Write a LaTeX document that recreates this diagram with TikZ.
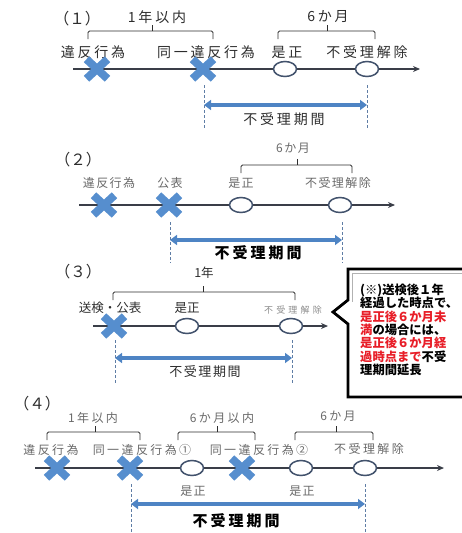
\documentclass[tikz,border=0pt]{standalone}
\usepackage{fontspec}
\usetikzlibrary{shapes.geometric,shapes.misc,arrows.meta}
\newfontfamily\jpn{Noto Sans CJK JP}
\newfontfamily\jpsp[LetterSpace=20]{Noto Sans CJK JP}
\newfontfamily\jpsq[LetterSpace=12]{Noto Sans CJK JP}
\newfontfamily\jpwd[LetterSpace=35]{Noto Sans CJK JP}
\definecolor{xblue}{RGB}{86,142,206}
\definecolor{cline}{RGB}{66,82,108}
\definecolor{axisc}{RGB}{58,62,72}
\definecolor{arrblue}{RGB}{78,132,196}
\definecolor{dashc}{RGB}{95,125,165}
\definecolor{txtA}{RGB}{45,45,45}
\definecolor{txtB}{RGB}{105,105,105}
\definecolor{txtC}{RGB}{140,140,140}
\definecolor{cred}{RGB}{232,30,40}
\begin{document}
\begin{tikzpicture}[x=1pt,y=-1pt,
  xmark/.style={cross out, draw=xblue, line width=8pt, minimum width=13pt, minimum height=11.5pt, inner sep=0pt},
  circ/.style={ellipse, draw=cline, line width=1.5pt, fill=white, minimum width=23pt, minimum height=15pt, inner sep=0pt},
  axisline/.style={draw=axisc, line width=1.3pt, -{Stealth[length=7pt,width=6pt]}},
  brace/.style={draw=txtA, line width=0.9pt, rounded corners=1.5pt},
  dashln/.style={draw=dashc, line width=0.8pt, dash pattern=on 3pt off 2pt},
  period/.style={draw=arrblue, line width=4pt, {Triangle[length=7pt,width=10pt]}-{Triangle[length=7pt,width=10pt]}},
  num/.style={inner sep=0pt, text=txtA, font=\jpn\fontsize{15.5}{17}\selectfont},
  ta/.style={inner sep=0pt, text=txtA, font=\jpsp\fontsize{14}{16}\selectfont},
  tb/.style={inner sep=0pt, text=txtB, font=\jpsq\fontsize{12}{14}\selectfont},
  tc/.style={inner sep=0pt, text=txtA, font=\jpn\fontsize{12.5}{14}\selectfont},
  tcs/.style={inner sep=0pt, text=txtC, font=\jpwd\fontsize{9}{11}\selectfont},
  td/.style={inner sep=0pt, text=txtB, font=\jpsp\fontsize{12}{14}\selectfont},
  pa/.style={inner sep=0pt, text=txtA, font=\jpsp\fontsize{14}{16}\selectfont},
  pb/.style={inner sep=0pt, text=black, font=\jpsp\bfseries\fontsize{15}{17}\selectfont},
  pc/.style={inner sep=0pt, text=txtA, font=\jpsq\fontsize{13}{15}\selectfont},
  cl/.style={inner sep=0pt, anchor=west, text=black, font=\jpn\bfseries\fontsize{12.3}{14}\selectfont},
  brk/.style={draw=txtA, line width=0.9pt}
]
\useasboundingbox (0,0) rectangle (462,533);

%% ---------------- Panel 1 ----------------
\node[num] (n1) at (77,19) {（１）};
\node[ta] (p1y) at (157,17) {1年以内};
\node[ta] (p1m) at (328,17) {6か月};
\coordinate (b1a) at (88,39); \coordinate (b1b) at (213,39);
\coordinate (b1m) at (152,31); \coordinate (b1t) at (152,25);
\draw[brace] (b1a) |- (b1m) -| (b1b); \draw[brk] (b1m) -- (b1t);
\coordinate (b2a) at (278,39); \coordinate (b2b) at (375,39);
\coordinate (b2m) at (327,31); \coordinate (b2t) at (327,25);
\draw[brace] (b2a) |- (b2m) -| (b2b); \draw[brk] (b2m) -- (b2t);
\node[ta] (l1a) at (93,52) {違反行為};
\node[ta] (l1b) at (206,52) {同一違反行為};
\node[ta] (l1c) at (287,52) {是正};
\node[ta] (l1d) at (367,52) {不受理解除};
\coordinate (a1s) at (73,69); \coordinate (a1e) at (420,69);
\draw[axisline] (a1s) -- (a1e);
\node[xmark] (x1a) at (97,69) {};
\node[xmark] (x1b) at (203,69) {};
\node[circ] (c1a) at (285,69) {};
\node[circ] (c1b) at (367,69) {};
\coordinate (d1a) at (204,85); \coordinate (d1b) at (204,129);
\coordinate (d1c) at (367,85); \coordinate (d1d) at (367,129);
\draw[dashln] (d1a) -- (d1b); \draw[dashln] (d1c) -- (d1d);
\coordinate (r1s) at (204,105); \coordinate (r1e) at (367,105);
\draw[period] (r1s) -- (r1e);
\node[pa] (q1) at (284,119) {不受理期間};

%% ---------------- Panel 2 ----------------
\node[num] (n2) at (78,160) {（２）};
\node[tb] (p2m) at (293,148) {6か月};
\coordinate (b3a) at (241,173); \coordinate (b3b) at (352,173);
\coordinate (b3m) at (297,165); \coordinate (b3t) at (297,159);
\draw[brace] (b3a) |- (b3m) -| (b3b); \draw[brk] (b3m) -- (b3t);
\node[tb] (l2a) at (109,183) {違反行為};
\node[tb] (l2b) at (170,183) {公表};
\node[tb] (l2c) at (241,183) {是正};
\node[tb] (l2d) at (338,183) {不受理解除};
\coordinate (a2s) at (79,205); \coordinate (a2e) at (395,205);
\draw[axisline] (a2s) -- (a2e);
\node[xmark] (x2a) at (104,205) {};
\node[xmark] (x2b) at (169,205) {};
\node[circ] (c2a) at (241,205) {};
\node[circ] (c2b) at (340,205) {};
\coordinate (d2a) at (170,222); \coordinate (d2b) at (170,263);
\coordinate (d2c) at (342,222); \coordinate (d2d) at (342,263);
\draw[dashln] (d2a) -- (d2b); \draw[dashln] (d2c) -- (d2d);
\coordinate (r2s) at (170,240); \coordinate (r2e) at (342,240);
\draw[period] (r2s) -- (r2e);
\node[pb] (q2) at (258,253) {不受理期間};

%% ---------------- Panel 3 ----------------
\node[num] (n3) at (78,272) {（３）};
\node[tc] (p3y) at (204,273) {1年};
\coordinate (b4a) at (113,300); \coordinate (b4b) at (295,300);
\coordinate (b4m) at (203,292); \coordinate (b4t) at (203,286);
\draw[brace] (b4a) |- (b4m) -| (b4b); \draw[brk] (b4m) -- (b4t);
\node[tc] (l3a) at (110,308) {送検・公表};
\node[tc] (l3b) at (187,308) {是正};
\node[tcs] (l3c) at (293,310) {不受理解除};
\coordinate (a3s) at (93,326); \coordinate (a3e) at (328,326);
\draw[axisline] (a3s) -- (a3e);
\node[xmark] (x3a) at (114,326) {};
\node[circ] (c3a) at (187,326) {};
\node[circ] (c3b) at (291,326) {};
\coordinate (d3a) at (115,340); \coordinate (d3b) at (115,383);
\coordinate (d3c) at (292,340); \coordinate (d3d) at (292,383);
\draw[dashln] (d3a) -- (d3b); \draw[dashln] (d3c) -- (d3d);
\coordinate (r3s) at (115,358); \coordinate (r3e) at (292,358);
\draw[period] (r3s) -- (r3e);
\node[pc] (q3) at (205,372) {不受理期間};

%% callout
\coordinate (k1) at (466,269); \coordinate (k2) at (348,269);
\coordinate (k3) at (348,300); \coordinate (k4) at (333,312);
\coordinate (k5) at (348,324); \coordinate (k6) at (348,397);
\coordinate (k7) at (466,397);
\fill[white] (k1) -- (k2) -- (k3) -- (k4) -- (k5) -- (k6) -- (k7) -- cycle;
\draw[black, line width=2.8pt, line join=miter] (k1) -- (k2) -- (k3) -- (k4) -- (k5) -- (k6) -- (k7);
\draw[gray!60, line width=0.8pt] (466,273.5) -- (352.5,273.5) -- (352.5,301.5);
\node[cl] (m1) at (360,290) {(※)送検後１年};
\node[cl] (m2) at (360,303.3) {経過した時点で、};
\node[cl, text=cred] (m3) at (360,316.6) {是正後６か月未};
\node[cl] (m4) at (360,330) {{\color{cred}満}の場合には、};
\node[cl, text=cred] (m5) at (360,343.3) {是正後６か月経};
\node[cl] (m6) at (360,356.6) {{\color{cred}過時点まで}不受};
\node[cl] (m7) at (360,370) {理期間延長};

%% ---------------- Panel 4 ----------------
\node[num] (n4) at (37,404) {（４）};
\node[td] (p4y) at (93,418) {1年以内};
\node[td] (p4h) at (222,418) {6か月以内};
\node[td] (p4m) at (338,416) {6か月};
\coordinate (b5a) at (47,440); \coordinate (b5b) at (140,440);
\coordinate (b5m) at (95,432); \coordinate (b5t) at (95,426);
\draw[brace] (b5a) |- (b5m) -| (b5b); \draw[brk] (b5m) -- (b5t);
\coordinate (b6a) at (178,440); \coordinate (b6b) at (255,440);
\coordinate (b6m) at (217,432); \coordinate (b6t) at (217,426);
\draw[brace] (b6a) |- (b6m) -| (b6b); \draw[brk] (b6m) -- (b6t);
\coordinate (b7a) at (295,440); \coordinate (b7b) at (373,440);
\coordinate (b7m) at (336,432); \coordinate (b7t) at (336,426);
\draw[brace] (b7a) |- (b7m) -| (b7b); \draw[brk] (b7m) -- (b7t);
\node[td] (l4a) at (51,450) {違反行為};
\node[td] (l4b) at (142,450) {同一違反行為①};
\node[td] (l4c) at (259,450) {同一違反行為②};
\node[td] (l4d) at (369,449) {不受理解除};
\coordinate (a4s) at (35,468); \coordinate (a4e) at (444,468);
\draw[axisline] (a4s) -- (a4e);
\node[xmark] (x4a) at (57,468) {};
\node[xmark] (x4b) at (130,468) {};
\node[xmark] (x4c) at (242,468) {};
\node[circ] (c4a) at (192,468) {};
\node[circ] (c4b) at (301,468) {};
\node[circ] (c4c) at (365,468) {};
\node[tb] (s4a) at (193,491) {是正};
\node[tb] (s4b) at (302,491) {是正};
\coordinate (d4a) at (131,484); \coordinate (d4b) at (131,533);
\coordinate (d4c) at (365,484); \coordinate (d4d) at (365,533);
\draw[dashln] (d4a) -- (d4b); \draw[dashln] (d4c) -- (d4d);
\coordinate (r4s) at (131,504); \coordinate (r4e) at (365,504);
\draw[period] (r4s) -- (r4e);
\node[pb] (q4) at (236,521) {不受理期間};
\end{tikzpicture}
\end{document}
